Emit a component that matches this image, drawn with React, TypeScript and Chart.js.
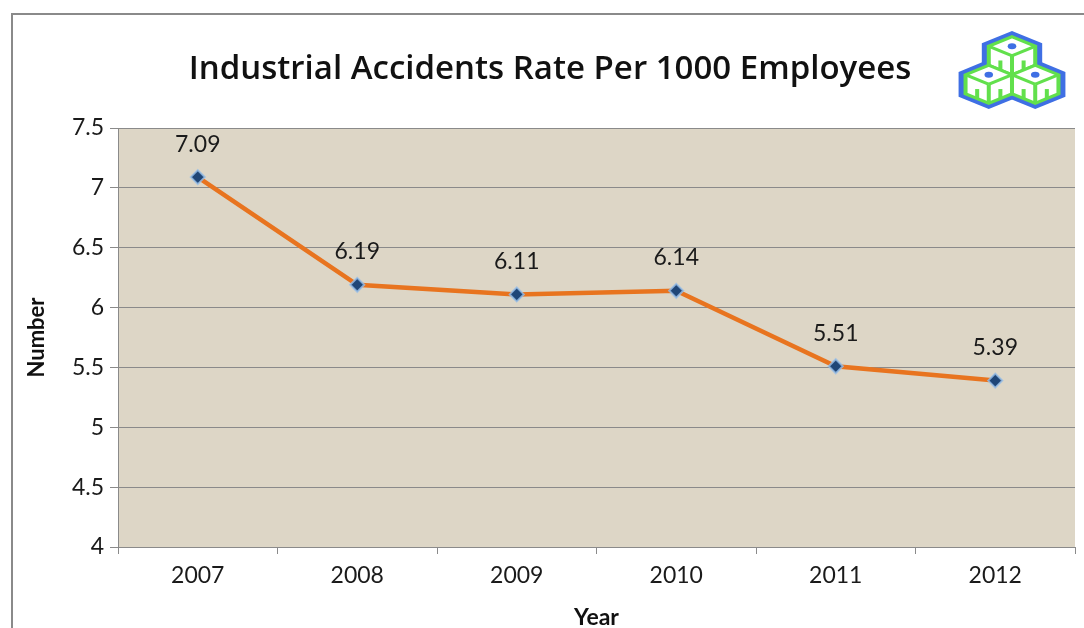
import React, { useEffect, useRef } from "react";
import { Chart, registerables } from "chart.js";

Chart.register(...registerables);

const years = ["2007", "2008", "2009", "2010", "2011", "2012"];
const rates = [7.09, 6.19, 6.11, 6.14, 5.51, 5.39];
const yTickValues = [4, 4.5, 5, 5.5, 6, 6.5, 7, 7.5];
const chartTitle = "Industrial Accidents Rate Per 1000 Employees";
const yAxisTitle = "Number";
const xAxisTitle = "Year";

const GRAY = "#8a8a8a";
const LABEL_FONT = "Lato, 'Open Sans', sans-serif";

const plotBackground = {
  id: "plotBackground",
  beforeDraw(chart: any) {
    const { ctx, chartArea } = chart;
    ctx.save();
    ctx.fillStyle = "#ddd6c6";
    ctx.fillRect(chartArea.left, chartArea.top, chartArea.right - chartArea.left, chartArea.bottom - chartArea.top);
    ctx.restore();
  },
};

const valueLabels = {
  id: "valueLabels",
  afterDatasetsDraw(chart: any) {
    const { ctx } = chart;
    const meta = chart.getDatasetMeta(0);
    const data = chart.data.datasets[0].data;
    ctx.save();
    ctx.font = `23px ${LABEL_FONT}`;
    ctx.fillStyle = "#1a1a1a";
    ctx.textAlign = "center";
    ctx.textBaseline = "middle";
    meta.data.forEach((pt: any, i: number) => {
      ctx.fillText(String(data[i].toFixed(2)), pt.x, pt.y - 33);
    });
    ctx.restore();
  },
};

function Logo() {
  const r = 20;
  const hex = (cx: number, cy: number, rr: number) => {
    const pts: string[] = [];
    for (let k = 0; k < 6; k++) {
      const a = (Math.PI / 180) * (60 * k - 90);
      pts.push(`${cx + rr * Math.cos(a)},${cy + rr * Math.sin(a)}`);
    }
    return pts.join(" ");
  };
  const w = (r * Math.sqrt(3)) / 2;
  const centers = [
    [0, 0],
    [-w, 30],
    [w, 30],
  ];
  return (
    <svg
      width={118}
      height={80}
      viewBox="-44 -27 88 84"
      preserveAspectRatio="none"
      style={{ position: "absolute", left: 953, top: 30 }}
    >
      {centers.map(([cx, cy], i) => (
        <polygon key={"b" + i} points={hex(cx, cy, r + 6)} fill="#3f6fe4" />
      ))}
      {centers.map(([cx, cy], i) => (
        <polygon key={"w" + i} points={hex(cx, cy, r)} fill="#ffffff" stroke="#62e04c" strokeWidth={3} />
      ))}
      {centers.map(([cx, cy], i) => (
        <g key={"l" + i} stroke="#62e04c" strokeWidth={3} fill="none">
          <line x1={cx} y1={cy} x2={cx} y2={cy + r} />
          <line x1={cx} y1={cy} x2={cx - w} y2={cy - r / 2} />
          <line x1={cx} y1={cy} x2={cx + w} y2={cy - r / 2} />
          <line x1={cx - w / 2} y1={cy + r / 4} x2={cx - w / 2} y2={cy + (3 * r) / 4} />
          <line x1={cx + w / 2} y1={cy + r / 4} x2={cx + w / 2} y2={cy + (3 * r) / 4} />
        </g>
      ))}
      {centers.map(([cx, cy], i) => (
        <circle key={"c" + i} cx={cx} cy={cy - r / 2} r={3.2} fill="#3f6fe4" />
      ))}
    </svg>
  );
}

export default function App() {
  const canvasRef = useRef<HTMLCanvasElement | null>(null);

  useEffect(() => {
    document.body.style.margin = "0";
    const canvas = canvasRef.current;
    if (!canvas) return;
    const chart = new Chart(canvas, {
      type: "line",
      data: {
        labels: years,
        datasets: [
          {
            data: rates,
            borderColor: "#e8741f",
            borderWidth: 4.5,
            tension: 0,
            pointStyle: "rectRot",
            pointRadius: 7,
            pointBackgroundColor: "#1f4677",
            pointBorderColor: "rgba(150,190,232,0.8)",
            pointBorderWidth: 2,
          },
        ],
      },
      options: {
        responsive: false,
        animation: false,
        events: [],
        layout: { padding: { left: 24, right: 8, top: 0, bottom: 0 } },
        plugins: {
          legend: { display: false },
          tooltip: { enabled: false },
          title: {
            display: true,
            text: chartTitle,
            color: "#111",
            font: { family: "'Open Sans', sans-serif", size: 33, weight: "600" as any, lineHeight: 1.2 },
            padding: { top: 50.2, bottom: 38.2 },
          },
        },
        scales: {
          x: {
            type: "category",
            offset: true,
            grid: { offset: true, drawOnChartArea: false, drawTicks: true, tickLength: 7, color: GRAY },
            border: { display: true, color: GRAY, width: 1 },
            ticks: { color: "#1a1a1a", font: { family: LABEL_FONT, size: 23 }, padding: 8, maxRotation: 0 },
            title: {
              display: true,
              text: xAxisTitle,
              color: "#111",
              font: { family: LABEL_FONT, size: 23, weight: "bold" as any, lineHeight: 1.2 },
              padding: { top: 0, bottom: -3 },
            },
            afterFit(scale: any) {
              scale.height = 81;
            },
          },
          y: {
            min: 4,
            max: 7.5,
            afterBuildTicks(scale: any) {
              scale.ticks = yTickValues.map((v) => ({ value: v }));
            },
            grid: { color: GRAY, drawTicks: true, tickLength: 8, lineWidth: 1 },
            border: { display: true, color: GRAY, width: 1 },
            ticks: {
              color: "#1a1a1a",
              font: { family: LABEL_FONT, size: 23 },
              padding: 6,
              callback: (v: any) => String(v),
            },
            title: {
              display: true,
              text: yAxisTitle,
              color: "#111",
              font: { family: LABEL_FONT, size: 22, weight: "bold" as any, lineHeight: 1.2 },
              padding: { top: 0, bottom: 0 },
            },
            afterFit(scale: any) {
              scale.width = 94;
            },
          },
        },
      },
      plugins: [plotBackground, valueLabels],
    });
    return () => chart.destroy();
  }, []);

  return (
    <div style={{ position: "fixed", left: 0, top: 0, width: 1084, height: 628, background: "#fff", overflow: "hidden" }}>
      <div
        style={{
          position: "absolute",
          left: 11,
          top: 13,
          width: 1100,
          height: 640,
          borderLeft: `2px solid ${GRAY}`,
          borderTop: `2px solid ${GRAY}`,
          boxSizing: "border-box",
        }}
      />
      <canvas ref={canvasRef} width={1084} height={628} style={{ position: "absolute", left: 0, top: 0 }} />
      <Logo />
    </div>
  );
}
